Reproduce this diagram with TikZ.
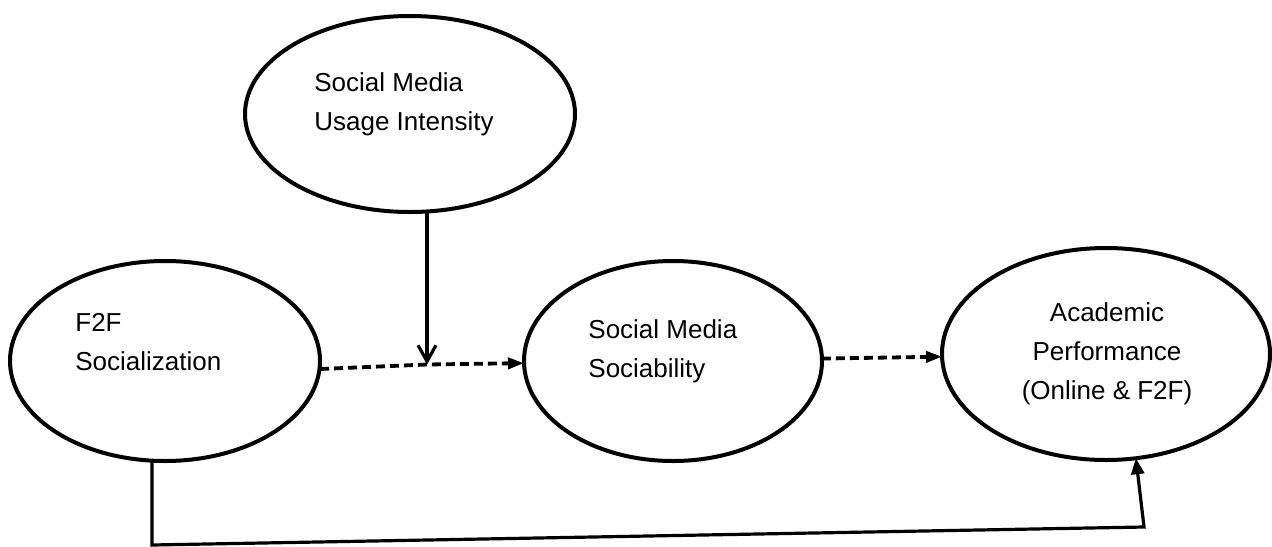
\documentclass[tikz,border=0pt]{standalone}
\usepackage{fontspec}
\setmainfont{Liberation Sans}
\usetikzlibrary{shapes.geometric,arrows.meta}

\begin{document}
\begin{tikzpicture}[x=0.5pt, y=-0.5pt,
    var/.style={ellipse, draw, line width=2pt, inner sep=0pt, outer sep=0pt},
    txt/.style={font=\fontsize{13pt}{19.5pt}\selectfont, inner sep=0pt},
    link/.style={line width=1.6pt},
    dashlink/.style={line width=1.9pt, dash pattern=on 4.5pt off 2.5pt}]

  \useasboundingbox (0,0) rectangle (1272,546);

  \node[var, minimum width=155pt, minimum height=100pt] (f2f) at (165,361) {};
  \node[var, minimum width=165pt, minimum height=98pt] (usage) at (410,114) {};
  \node[var, minimum width=149pt, minimum height=100pt] (soc) at (673,361) {};
  \node[var, minimum width=164pt, minimum height=106pt] (acad) at (1106,354) {};

  \node[txt, anchor=base west, align=left] (f2f-t) at (75,370) {F2F\\Socialization};
  \node[txt, anchor=base west, align=left] (usage-t) at (314,130) {Social Media\\Usage Intensity};
  \node[txt, anchor=base west, align=left] (soc-t) at (588,377) {Social Media\\Sociability};
  \node[txt, anchor=base, align=center] (acad-t) at (1107,399) {Academic\\Performance\\(Online \& F2F)};

  \coordinate (mid) at (427,364.5);
  \coordinate (b1) at (152,545);
  \coordinate (b2) at (1144,527);

  \draw[dashlink, -{Triangle[length=8pt,width=5.5pt]}] ([yshift=-4pt]f2f.east) -- (mid) -- (soc);
  \draw[link, -{Straight Barb[length=8pt,width=9pt]}] (usage.south -| mid) -- (mid);
  \path[dashlink, -{Triangle[length=8pt,width=5.5pt]}]
    (soc) edge (acad);
  \draw[link, -{Triangle[length=8pt,width=6.5pt]}] (f2f.south -| b1) -- (b1) -- (b2) -- (acad.-74);
\end{tikzpicture}
\end{document}
